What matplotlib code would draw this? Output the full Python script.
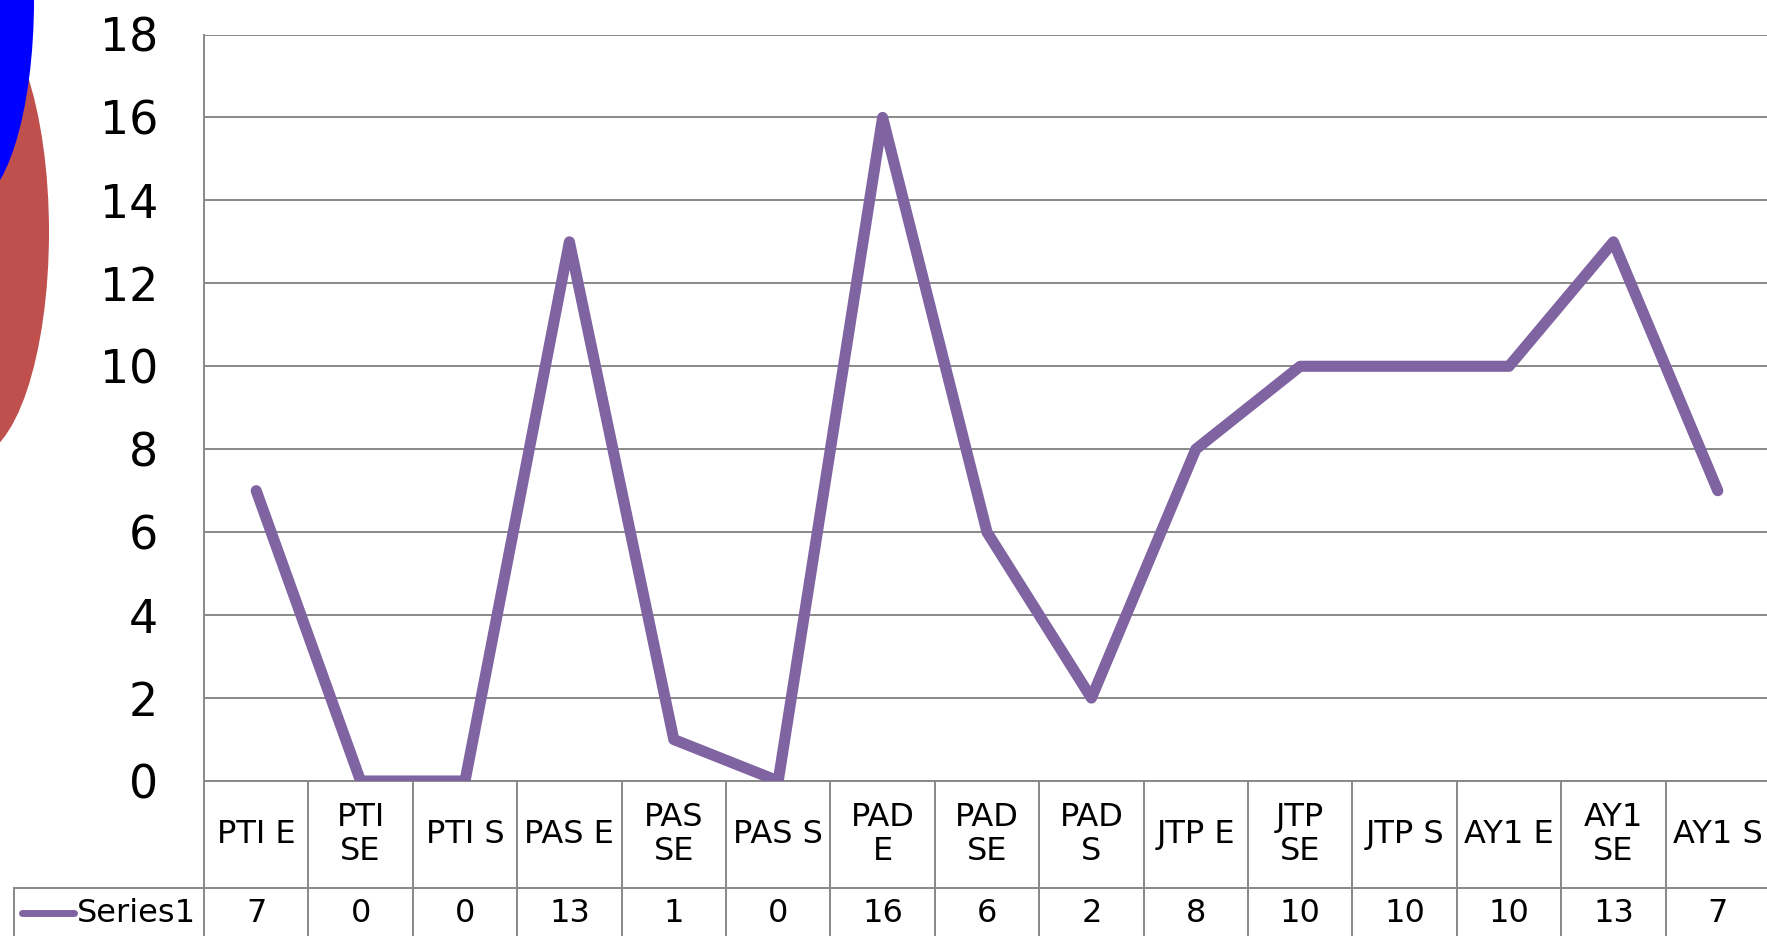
import matplotlib
matplotlib.use("Agg")
import matplotlib.pyplot as plt
from matplotlib.patches import Ellipse
from matplotlib.lines import Line2D

categories = ["PTI E", "PTI\nSE", "PTI S", "PAS E", "PAS\nSE", "PAS S", "PAD\nE",
              "PAD\nSE", "PAD\nS", "JTP E", "JTP\nSE", "JTP S", "AY1 E", "AY1\nSE", "AY1 S"]
values = [7, 0, 0, 13, 1, 0, 16, 6, 2, 8, 10, 10, 10, 13, 7]
series_name = "Series1"
yticks = [0, 2, 4, 6, 8, 10, 12, 14, 16, 18]

W, H = 1767, 936
DPI = 100
fig = plt.figure(figsize=(W / DPI, H / DPI), dpi=DPI)
fig.patch.set_facecolor("white")

PURPLE = "#8064A2"
GRID = "#888888"
TFS = 23

# plot area in pixels
x0, x1 = 204, 1770
ytop, ybot = 34.5, 781
ax = fig.add_axes([x0 / W, 1 - ybot / H, (x1 - x0) / W, (ybot - ytop) / H])
ax.set_facecolor("white")
n = len(categories)
ax.set_xlim(-0.5, n - 0.5)
ax.set_ylim(0, 18)
ax.set_yticks(yticks)
ax.set_yticklabels([str(v) for v in yticks], fontsize=33, family="DejaVu Sans")
ax.tick_params(axis="y", length=0, pad=33)
ax.set_xticks([])
for s in ["top", "right"]:
    ax.spines[s].set_visible(False)
for s in ["left", "bottom"]:
    ax.spines[s].set_color(GRID)
    ax.spines[s].set_linewidth(1.4)
ax.yaxis.grid(True, color=GRID, linewidth=1.4)
ax.set_axisbelow(True)

ax.plot(range(n), values, color=PURPLE, linewidth=8, solid_joinstyle="round",
        solid_capstyle="round", zorder=3)

# table below plot
ah = ybot - ytop
def yax(py):
    return (ybot - py) / ah

tr = ax.get_xaxis_transform()
hdr_bot = 888
for i in range(n + 1):
    ax.add_line(Line2D([i - 0.5, i - 0.5], [yax(ybot), yax(H + 5)], transform=tr,
                       color=GRID, linewidth=1.4, clip_on=False))
ax.add_line(Line2D([-0.5, n], [yax(hdr_bot), yax(hdr_bot)], transform=tr,
                   color=GRID, linewidth=1.4, clip_on=False))
for i, (c, v) in enumerate(zip(categories, values)):
    ax.text(i, yax((ybot + hdr_bot) / 2), c, transform=tr, ha="center", va="center",
            fontsize=TFS, linespacing=1.15, clip_on=False)
    ax.text(i, yax(913), str(v), transform=tr, ha="center", va="center",
            fontsize=TFS, clip_on=False)

# legend cell
fig.add_artist(Line2D([13.5 / W, x0 / W], [1 - hdr_bot / H, 1 - hdr_bot / H],
                      transform=fig.transFigure, color=GRID, linewidth=1.4))
fig.add_artist(Line2D([13.5 / W, 13.5 / W], [1 - hdr_bot / H, -0.01],
                      transform=fig.transFigure, color=GRID, linewidth=1.4))
fig.add_artist(Line2D([22 / W, 74 / W], [1 - 913 / H, 1 - 913 / H],
                      transform=fig.transFigure, color=PURPLE, linewidth=5,
                      solid_capstyle="round"))
fig.text(77 / W, 1 - 913 / H, series_name, ha="left", va="center", fontsize=TFS)

# decorative ellipses at left edge
fig.add_artist(Ellipse((-27 / W, 1 - 232 / H), 2 * 76 / W, 2 * 225 / H,
                       transform=fig.transFigure, facecolor="#C0504D", edgecolor="none"))
fig.add_artist(Ellipse((-30 / W, 1 - 0 / H), 2 * 64 / W, 2 * 204 / H,
                       transform=fig.transFigure, facecolor="#0000FF", edgecolor="none"))

fig.savefig("out.png", dpi=DPI, facecolor="white")
